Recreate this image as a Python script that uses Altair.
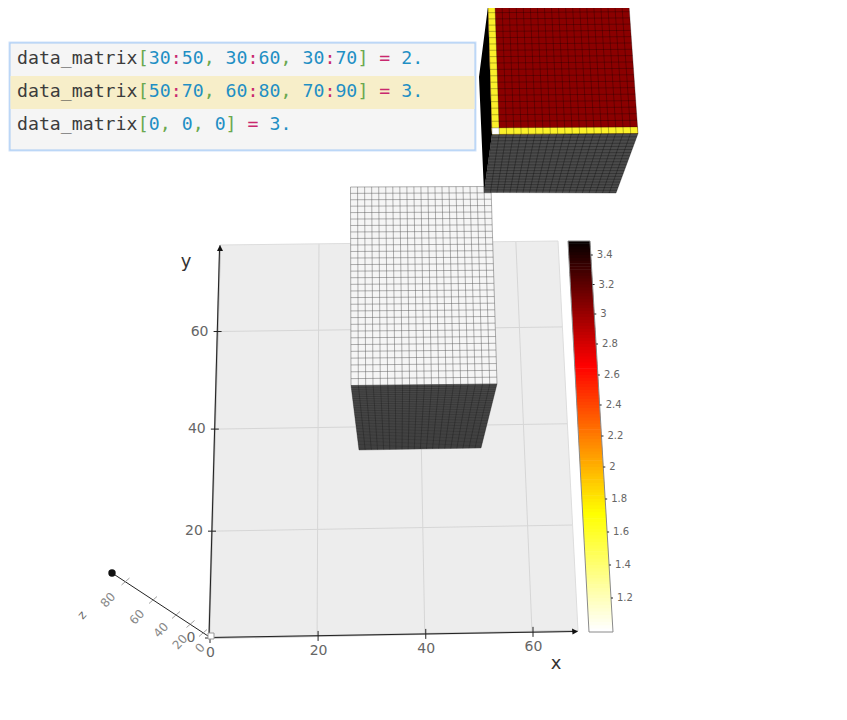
import altair as alt
import numpy as np
import pandas as pd

# ---------- values ----------
x_ticks = [0, 20, 40, 60]
y_ticks = [0, 20, 40, 60]
z_ticks = [0, 20, 40, 60, 80]
cbar_ticks = [3.4, 3.2, 3.0, 2.8, 2.6, 2.4, 2.2, 2.0, 1.8, 1.6, 1.4, 1.2]
cbar_tick_rows = [255, 284.5, 314, 344, 375, 405, 436, 467, 499, 532, 565, 598]
cbar_stops = [1.0, 1.7, 2.65, 3.5]
cbar_rgb = [(255, 255, 255), (255, 255, 0), (255, 0, 0), (0, 0, 0)]
code_lines = [
    [("data_matrix", "ink"), ("[", "br"), ("30", "num"), (":", "op"), ("50", "num"), (", ", "br"),
     ("30", "num"), (":", "op"), ("60", "num"), (", ", "br"), ("30", "num"), (":", "op"), ("70", "num"),
     ("]", "br"), (" ", "ink"), ("=", "op"), (" ", "ink"), ("2.", "num")],
    [("data_matrix", "ink"), ("[", "br"), ("50", "num"), (":", "op"), ("70", "num"), (", ", "br"),
     ("60", "num"), (":", "op"), ("80", "num"), (", ", "br"), ("70", "num"), (":", "op"), ("90", "num"),
     ("]", "br"), (" ", "ink"), ("=", "op"), (" ", "ink"), ("3.", "num")],
    [("data_matrix", "ink"), ("[", "br"), ("0", "num"), (", ", "br"), ("0", "num"), (", ", "br"),
     ("0", "num"), ("]", "br"), (" ", "ink"), ("=", "op"), (" ", "ink"), ("3.", "num")],
]
token_colors = {"ink": "#3c3c3c", "br": "#6aa84f", "num": "#1f8fc4", "op": "#c9286f"}

# view calibration: corners of each drawn plane on the page
floor_data = [(0, 0), (68.6, 0), (68.6, 78.5), (0, 78.5)]
floor_page = [(209, 638), (578, 631), (558, 241), (220, 245)]
low_top_page = [(351, 385.5), (497, 384), (491, 186.5), (350.5, 187)]
low_front_page = [(359, 450), (481, 448), (497, 384), (351, 385.5)]
high_top_page = [(492, 134.5), (638, 133.5), (629, 5.5), (488, 6.5)]
high_front_page = [(484, 192.5), (616, 193), (638, 133.5), (492, 134.5)]
high_side_page = [(488, 6.5), (492, 134.5), (484, 192.5), (479, 77)]
cbar_page = [(589, 632), (613, 632), (590, 241), (568, 241)]

X_DOM, Y_DOM = [8, 828], [698, 8]


def homography(src, dst):
    a, b = [], []
    for (u, v), (x, y) in zip(src, dst):
        a.append([u, v, 1, 0, 0, 0, -u * x, -v * x]); b.append(x)
        a.append([0, 0, 0, u, v, 1, -u * y, -v * y]); b.append(y)
    h = np.linalg.solve(np.array(a, float), np.array(b, float))
    m = np.append(h, 1).reshape(3, 3)

    def f(u, v):
        p = m @ np.array([u, v, 1.0])
        return float(p[0] / p[2]), float(p[1] / p[2])
    return f


rules = []
pid = [0]


def poly_rows(pts, fill=None):
    """Convex polygon as a horizontal area: left/right edge at every vertex row."""
    pid[0] += 1
    pts = list(pts)
    out = []
    ys = sorted(set(round(p[1], 3) for p in pts))
    for y in ys:
        xs = []
        n = len(pts)
        for i in range(n):
            (x0, y0), (x1, y1) = pts[i], pts[(i + 1) % n]
            lo, hi = min(y0, y1), max(y0, y1)
            if lo - 1e-3 <= y <= hi + 1e-3:
                if abs(y1 - y0) < 1e-6:
                    xs += [x0, x1]
                else:
                    xs.append(x0 + (x1 - x0) * (y - y0) / (y1 - y0))
        row = dict(id=pid[0], y=y, xa=min(xs), xb=max(xs))
        if fill is not None:
            row["hex"] = fill
        out.append(row)
    return out


def add_rule(a, b, color, width=1.0, opacity=1.0):
    rules.append(dict(xa=a[0], ya=a[1], xb=b[0], yb=b[1], c=color, w=width, o=opacity))


def add_grid(f, u0, u1, v0, v1, color, width, opacity):
    for u in range(u0, u1 + 1):
        add_rule(f(u, v0), f(u, v1), color, width, opacity)
    for v in range(v0, v1 + 1):
        add_rule(f(u0, v), f(u1, v), color, width, opacity)


def quad(f, u0, u1, v0, v1):
    return [f(u0, v0), f(u1, v0), f(u1, v1), f(u0, v1)]


X = lambda n="xa": alt.X(f"{n}:Q", scale=alt.Scale(domain=X_DOM, nice=False), axis=None)
Y = lambda n="y": alt.Y(f"{n}:Q", scale=alt.Scale(domain=Y_DOM, nice=False), axis=None)


def poly(pts, fill):
    return alt.Chart(pd.DataFrame(poly_rows(pts))).mark_area(
        orient="horizontal", opacity=1, color=fill).encode(x=X("xa"), x2="xb:Q", y=Y("y"))


def rule_layer(rows):
    return alt.Chart(pd.DataFrame(rows)).mark_rule().encode(
        x=X("xa"), x2="xb:Q", y=Y("ya"), y2="yb:Q",
        stroke=alt.Stroke("c:N", scale=None),
        strokeWidth=alt.StrokeWidth("w:Q", scale=None),
        opacity=alt.Opacity("o:Q", scale=None))


def text_layer(rows, font, size, weight="normal", align="center"):
    return alt.Chart(pd.DataFrame(rows)).mark_text(
        font=font, fontSize=size, fontWeight=weight, align=align, baseline="middle").encode(
        x=X("x"), y=Y("y"), text="t:N",
        color=alt.Color("c:N", scale=None),
        angle=alt.Angle("a:Q", scale=None))


# ---------- floor ----------
floor = homography(floor_data, floor_page)
floor_rules = []
save = rules
rules = floor_rules
for t in x_ticks[1:]:
    add_rule(floor(t, 0), floor(t, 78.5), "#d6d6d6", 1)
for t in y_ticks[1:]:
    add_rule(floor(0, t), floor(68.6, t), "#d6d6d6", 1)
add_rule(floor_page[1], floor_page[2], "#dddddd", 1)
add_rule(floor_page[2], floor_page[3], "#dddddd", 1)
add_rule(floor_page[0], floor_page[3], "#b8b8b8", 2)
add_rule(floor_page[0], floor_page[1], "#c4c4c4", 2)
# axis lines and ticks
add_rule((209, 637.5), (574, 631.5), "#222222", 1)
add_rule((209, 637.5), (219.5, 250), "#222222", 1)
add_rule((208, 636), (112, 573), "#222222", 1)
for t in x_ticks:
    p = floor(t, 0)
    add_rule((p[0] + 1, p[1] - 5), (p[0] + 1, p[1] + 5), "#222222", 1)
for t in y_ticks:
    p = floor(0, t)
    add_rule((p[0] - 4, p[1]), (p[0] + 4, p[1]), "#222222", 1)
z_pos = [(203, 633), (190.5, 624), (176, 615), (153, 600), (125.5, 581.5)]
for p in z_pos:
    add_rule((p[0] - 4, p[1] + 3.5), (p[0] + 4, p[1] - 3.5), "#888888", 0.8)
rules = save

# ---------- lower block (30:50, 30:60, 30:70) ----------
low_top = homography([(30, 30), (50, 30), (50, 60), (30, 60)], low_top_page)
low_front = homography([(30, 30), (50, 30), (50, 70), (30, 70)], low_front_page)
low_rules = []
save = rules; rules = low_rules
add_grid(low_top, 30, 50, 30, 60, "#5a5a5a", 0.8, 0.6)
add_grid(low_front, 30, 50, 30, 70, "#111111", 0.6, 0.5)
rules = save

# ---------- upper block (50:70, 60:80, 70:90) and corner cell ----------
high_top = homography([(50, 60), (70, 60), (70, 80), (50, 80)], high_top_page)
high_front = homography([(50, 70), (70, 70), (70, 90), (50, 90)], high_front_page)
high_rules = []
save = rules; rules = high_rules
add_grid(high_top, 50, 70, 60, 80, "#000000", 0.7, 0.4)
add_grid(high_front, 50, 70, 70, 90, "#000000", 0.6, 0.5)
rules = save

# ---------- colour bar ----------
cbar_values = [round(1.0 + i * 0.02, 2) for i in range(126)]
rows_desc = cbar_tick_rows[::-1]
ticks_asc = cbar_ticks[::-1]


def cbar_row(v):
    return float(np.interp(v, [1.0] + ticks_asc + [3.5], [632] + rows_desc + [241]))


def cbar_hex(v):
    return "#" + "".join(f"{int(round(np.interp(v, cbar_stops, [c[k] for c in cbar_rgb]))):02x}" for k in range(3))


def edge(row, side):
    (xb, yb), (xt, yt) = (cbar_page[0], cbar_page[3]) if side == 0 else (cbar_page[1], cbar_page[2])
    return xb + (xt - xb) * (row - yb) / (yt - yb)


cbar_rows = []
for v in cbar_values:
    r0, r1 = cbar_row(v), max(cbar_row(v + 0.024), 241)
    cbar_rows += poly_rows([(edge(r0, 0), r0), (edge(r0, 1), r0), (edge(r1, 1), r1), (edge(r1, 0), r1)], cbar_hex(v))
cbar_layer = alt.Chart(pd.DataFrame(cbar_rows)).mark_area(orient="horizontal", opacity=1).encode(
    x=X("xa"), x2="xb:Q", y=Y("y"), detail="id:N",
    fill=alt.Fill("hex:N", scale=None))

cbar_rules = []
save = rules; rules = cbar_rules
for a, b in [(0, 1), (1, 2), (2, 3), (3, 0)]:
    add_rule(cbar_page[a], cbar_page[b], "#8a8a8a", 1)
for r in cbar_tick_rows:
    e = edge(r, 1)
    add_rule((e, r), (e + 2, r), "#222222", 1)
rules = save

# ---------- texts ----------
axis_text = []
for t in x_ticks:
    p = floor(t, 0)
    axis_text.append(dict(x=p[0] + 1.5, y=p[1] + 15, t=str(t), c="#666666", a=0))
for t in y_ticks:
    p = floor(0, t)
    axis_text.append(dict(x=p[0] - 18, y=p[1], t=str(t), c="#666666", a=0))
z_labels = [(200, 648), (180, 642), (161, 630), (137, 617), (108, 600)]
z_text = [dict(x=p[0], y=p[1], t=str(t), c="#888888", a=312) for t, p in zip(z_ticks, z_labels)]
z_text.append(dict(x=82, y=615, t="z", c="#666666", a=312))
title_text = [dict(x=556, y=664, t="x", c="#333333", a=0), dict(x=186, y=262, t="y", c="#333333", a=0)]
cbar_text = [dict(x=edge(r, 1) + 6, y=r, t=f"{v:g}", c="#666666", a=0) for v, r in zip(cbar_ticks, cbar_tick_rows)]

CHAR_W = 10.98
code_text = []
for i, line in enumerate(code_lines):
    col = 0
    for tok, kind in line:
        if tok.strip():
            code_text.append(dict(x=17 + col * CHAR_W, y=59 + i * 33, t=tok, c=token_colors[kind], a=0))
        col += len(tok)

box = pd.DataFrame([
    dict(x=8.5, x2=476.5, y=41.5, y2=151.5, f="#cfe2fa"),
    dict(x=9.5, x2=475.5, y=42.5, y2=150.5, f="#a9cbf3"),
    dict(x=10.5, x2=474.5, y=43.5, y2=149.5, f="#f5f5f5"),
    dict(x=10.5, x2=474.5, y=76, y2=109, f="#f7eec9"),
])
box_layer = alt.Chart(box).mark_rect().encode(
    x=X("x"), x2="x2:Q", y=Y("y"), y2="y2:Q", fill=alt.Fill("f:N", scale=None))

ball = alt.Chart(pd.DataFrame([dict(x=112, y=573)])).mark_circle(size=55, color="#111111", opacity=1).encode(x=X("x"), y=Y("y"))
origin = alt.Chart(pd.DataFrame([dict(x=211, y=636)])).mark_square(size=36, fill="#ffffff", stroke="#999999", strokeWidth=1, opacity=1).encode(x=X("x"), y=Y("y"))

chart = alt.layer(
    poly(floor_page, "#ededed"), rule_layer(floor_rules),
    poly([(578, 631.5), (572, 628.5), (572.5, 634.5)], "#111111"),
    poly([(220, 245), (217, 251), (223, 251)], "#111111"),
    ball, origin,
    poly(low_top_page, "#f5f5f5"), poly(low_front_page, "#4b4b4b"), rule_layer(low_rules),
    poly(high_side_page, "#000000"), poly(high_front_page, "#4b4b4b"), poly(high_top_page, "#8b0000"),
    poly(quad(high_top, 50, 51, 60, 80), "#fbf02a"),
    poly(quad(high_top, 50, 70, 60, 61), "#fbf02a"),
    poly(quad(high_top, 50, 51, 60, 61), "#ffffff"),
    rule_layer(high_rules),
    cbar_layer, rule_layer(cbar_rules),
    box_layer,
    text_layer(code_text, "DejaVu Sans Mono", 18.2, align="left"),
    text_layer(axis_text, "DejaVu Sans", 14),
    text_layer(z_text, "DejaVu Sans", 12),
    text_layer(title_text, "DejaVu Sans", 18),
    text_layer(cbar_text, "DejaVu Sans", 10, align="left"),
).properties(
    width=X_DOM[1] - X_DOM[0], height=Y_DOM[0] - Y_DOM[1], padding=0,
    autosize=alt.AutoSizeParams(type="none"), background="#ffffff",
).configure_view(stroke=None)

chart.save("out.html", embed_options={"renderer": "svg", "actions": False})
